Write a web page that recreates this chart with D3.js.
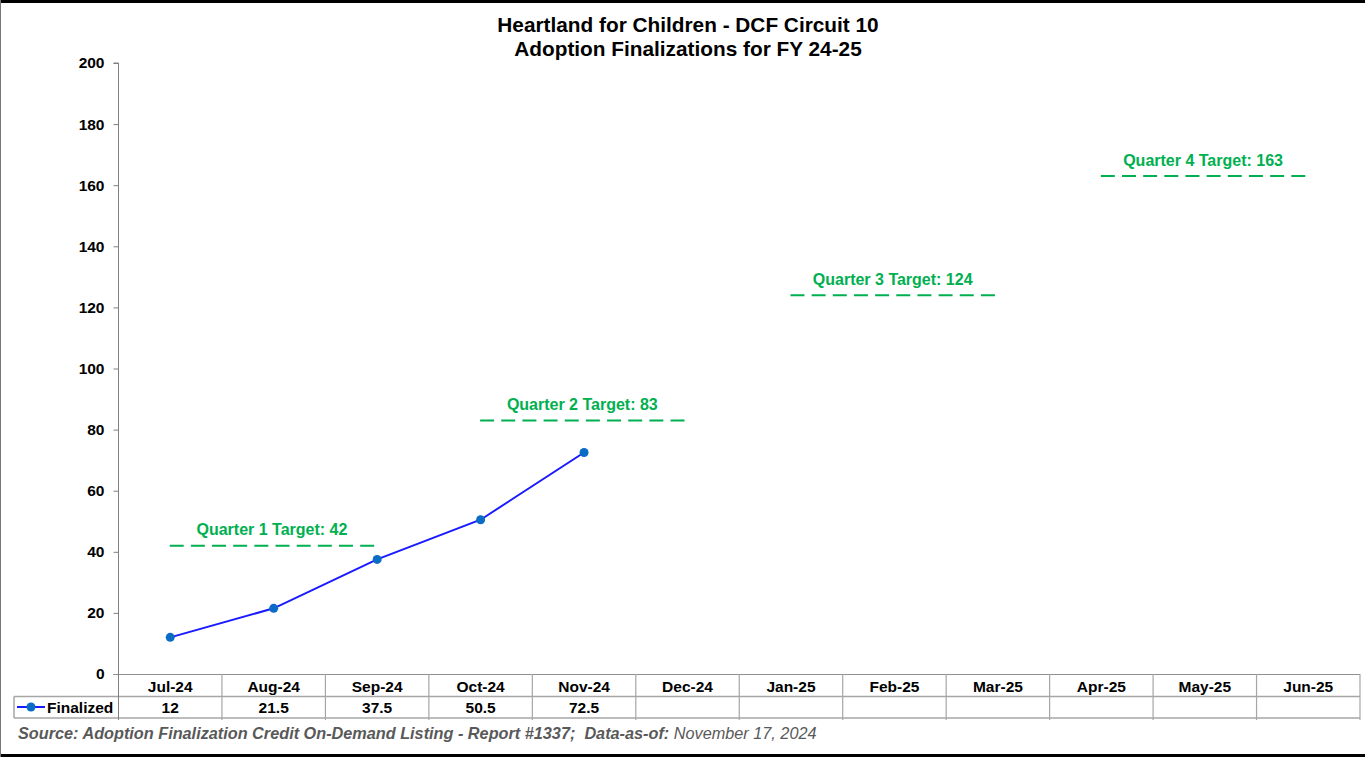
<!DOCTYPE html>
<html><head><meta charset="utf-8">
<script src="https://cdn.jsdelivr.net/npm/d3@7"></script>
<style>
html,body{margin:0;padding:0;background:#fff;}
svg{display:block;font-family:"Liberation Sans",Arial,sans-serif;}
</style></head>
<body>
<svg id="chart" width="1365" height="757"></svg>
<script>
const titleLines = ["Heartland for Children - DCF Circuit 10", "Adoption Finalizations for FY 24-25"];
const months = ["Jul-24","Aug-24","Sep-24","Oct-24","Nov-24","Dec-24","Jan-25","Feb-25","Mar-25","Apr-25","May-25","Jun-25"];
const finalized = [12, 21.5, 37.5, 50.5, 72.5, null, null, null, null, null, null, null];
const seriesName = "Finalized";
const yTicks = [0, 20, 40, 60, 80, 100, 120, 140, 160, 180, 200];
const targetLabels = ["Quarter 1 Target: 42", "Quarter 2 Target: 83", "Quarter 3 Target: 124", "Quarter 4 Target: 163"];
const targetValues = [42, 83, 124, 163];
const targetStart = ["Jul-24", "Oct-24", "Jan-25", "Apr-25"];
const targetEnd = ["Sep-24", "Dec-24", "Mar-25", "Jun-25"];
const sourceBold = "Source: Adoption Finalization Credit On-Demand Listing - Report #1337;  Data-as-of: ";
const sourceDate = "November 17, 2024";

const svg = d3.select("#chart");
const W = 1365, H = 757;
const plot = {left: 118.5, right: 1360, top: 63, bottom: 674};
const green = "#00B050";

// frame
svg.append("rect").attr("x",0).attr("y",0).attr("width",W).attr("height",H).attr("fill","#fff");
svg.append("line").attr("x1",0).attr("x2",W).attr("y1",1.5).attr("y2",1.5).attr("stroke","#000").attr("stroke-width",3);
svg.append("line").attr("x1",0).attr("x2",W).attr("y1",755.5).attr("y2",755.5).attr("stroke","#000").attr("stroke-width",3);
svg.append("line").attr("x1",0.5).attr("x2",0.5).attr("y1",0).attr("y2",H).attr("stroke","#777").attr("stroke-width",1);

const x = d3.scaleBand().domain(months).range([plot.left, plot.right]).padding(0);
const cx = m => x(m) + x.bandwidth()/2;
const y = d3.scaleLinear().domain([0,200]).range([plot.bottom, plot.top]);

// title
svg.append("g").selectAll("text").data(titleLines).join("text")
  .attr("x", 688).attr("y", (d,i) => 31.5 + i*24)
  .attr("text-anchor","middle").attr("font-weight","bold").attr("font-size",20.8).attr("fill","#000")
  .text(d => d);

// y axis
const yAxis = d3.axisLeft(y).tickValues(yTicks).tickSize(5).tickPadding(9);
const gy = svg.append("g").attr("transform",`translate(${plot.left},0)`).call(yAxis);
gy.select(".domain").attr("stroke","#808080").attr("d", `M-5,${plot.top}H0V${plot.bottom}`);
gy.selectAll(".tick line").attr("stroke","#808080");
gy.selectAll(".tick text").attr("font-size",15.5).attr("font-weight","bold").attr("fill","#000")
  .attr("font-family","Liberation Sans, Arial, sans-serif");

// table
const tbl = svg.append("g");
const rowTop = plot.bottom, rowMid = 696.5, rowBot = 718;
const gridC = "#a6a6a6";
tbl.append("line").attr("x1",plot.left-5).attr("x2",plot.right).attr("y1",rowTop+0.5).attr("y2",rowTop+0.5).attr("stroke","#909090");
tbl.append("line").attr("x1",14).attr("x2",plot.right).attr("y1",rowMid).attr("y2",rowMid).attr("stroke",gridC).attr("stroke-width",1.5);
tbl.append("line").attr("x1",14).attr("x2",plot.right).attr("y1",rowBot).attr("y2",rowBot).attr("stroke",gridC).attr("stroke-width",1.5);
tbl.append("line").attr("x1",14).attr("x2",14).attr("y1",rowMid).attr("y2",rowBot).attr("stroke",gridC).attr("stroke-width",1.5);
tbl.append("line").attr("x1",plot.left).attr("x2",plot.left).attr("y1",rowTop).attr("y2",rowBot+2).attr("stroke","#808080");
tbl.selectAll("line.vc").data(months).join("line").attr("class","vc")
  .attr("x1", d => x(d)+x.bandwidth()).attr("x2", d => x(d)+x.bandwidth())
  .attr("y1", rowTop).attr("y2", rowBot+2).attr("stroke", gridC).attr("stroke-width",1.2);
tbl.selectAll("text.mh").data(months).join("text").attr("class","mh")
  .attr("x", d => cx(d)).attr("y", 691.5).attr("text-anchor","middle")
  .attr("font-size",15.5).attr("font-weight","bold").attr("fill","#000").text(d => d);
tbl.selectAll("text.mv").data(months.map((m,i)=>({m, v: finalized[i]})).filter(d => d.v !== null)).join("text").attr("class","mv")
  .attr("x", d => cx(d.m)).attr("y", 712.5).attr("text-anchor","middle")
  .attr("font-size",15.5).attr("font-weight","bold").attr("fill","#000").text(d => d.v);
// legend key
tbl.append("line").attr("x1",17).attr("x2",45).attr("y1",707).attr("y2",707).attr("stroke","#1a1aff").attr("stroke-width",2);
tbl.append("circle").attr("cx",31).attr("cy",707).attr("r",4.5).attr("fill","#0a6cc4");
tbl.append("text").attr("x",47).attr("y",712.5).attr("font-size",15.5).attr("font-weight","bold").attr("fill","#000").text(seriesName);

// targets
const tg = svg.append("g");
targetValues.forEach((v,i) => {
  const x1 = cx(targetStart[i]) - 0.5, x2 = cx(targetEnd[i]) - 3;
  const L = x2 - x1, p = L / 9.66;
  tg.append("line").attr("x1",x1).attr("x2",x2).attr("y1",y(v)).attr("y2",y(v))
    .attr("stroke",green).attr("stroke-width",2).attr("stroke-dasharray",`${(0.66*p).toFixed(2)},${(0.34*p).toFixed(2)}`);
  tg.append("text").attr("x",(x1+x2)/2).attr("y",y(v)-10.5).attr("text-anchor","middle")
    .attr("font-size",16).attr("font-weight","bold").attr("fill",green).text(targetLabels[i]);
});

// series
const pts = months.map((m,i)=>({m, v: finalized[i]})).filter(d => d.v !== null);
svg.append("path").datum(pts)
  .attr("d", d3.line().x(d => cx(d.m)).y(d => y(d.v)))
  .attr("fill","none").attr("stroke","#1a1aff").attr("stroke-width",2);
svg.selectAll("circle.pt").data(pts).join("circle").attr("class","pt")
  .attr("cx", d => cx(d.m)).attr("cy", d => y(d.v)).attr("r",4.5).attr("fill","#0a6cc4");

// source
const st = svg.append("text").attr("x",18).attr("y",738.5).attr("font-size",16.25).attr("font-style","italic").attr("fill","#595959");
st.append("tspan").attr("font-weight","bold").text(sourceBold);
st.append("tspan").text(sourceDate);
st.style("white-space","pre");
</script>
</body></html>
